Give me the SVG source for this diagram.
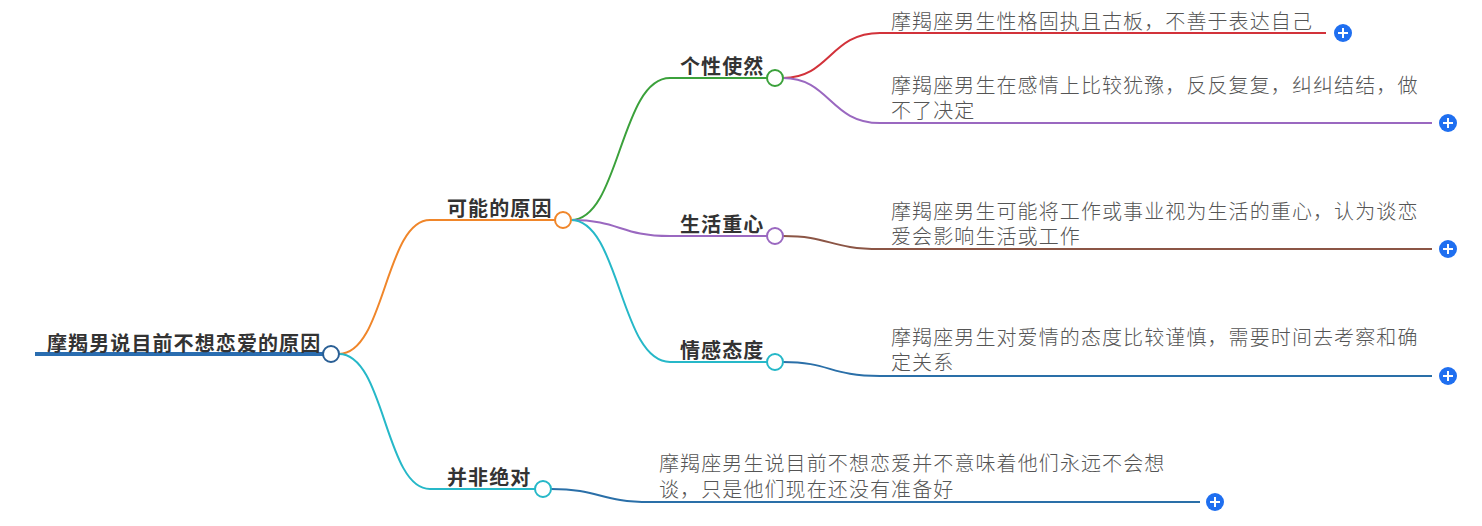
<svg xmlns="http://www.w3.org/2000/svg" width="1482" height="526" viewBox="0 0 1482 526">
<style>
.b{font-family:"Noto Sans CJK SC","Noto Sans",sans-serif;font-weight:bold;font-size:20px;letter-spacing:1.1px;fill:#333}
.t{font-family:"Noto Sans CJK SC","Noto Sans",sans-serif;font-size:20px;letter-spacing:1.1px;fill:#555;font-weight:300}
.c{fill:none;stroke-width:2}
.n{fill:#fff;stroke-width:2}
.p{fill:#1f6ff0}
.pl{stroke:#fff;stroke-width:2}
</style>
<defs>
<g id="plus"><circle r="9" class="p"/><path d="M-5 0H5M0 -5V5" class="pl"/></g>
</defs>
<g id="connectors">
<path d="M35 354H323" stroke="#2a6db0" stroke-width="4" fill="none"/>
<path class="c" stroke="#f0862a" d="M339 354C385 354 385 220 430 220H555"/>
<path class="c" stroke="#26b8c8" d="M339 354C385 354 385 489 430 489H535"/>
<path class="c" stroke="#3ba13b" d="M571 220C620 220 620 78 670 78H767"/>
<path class="c" stroke="#9a68c0" d="M571 220C620 220 620 236 670 236H767"/>
<path class="c" stroke="#26b8c8" d="M571 220C620 220 620 362 670 362H767"/>
<path class="c" stroke="#d2323a" d="M783 78C830 78 830 33 880 33H1326"/>
<path class="c" stroke="#9a68c0" d="M783 78C830 78 830 123 880 123H1432"/>
<path class="c" stroke="#8b5545" d="M783 236C830 236 830 249 880 249H1432"/>
<path class="c" stroke="#2a6fa8" d="M783 362C830 362 830 376 880 376H1432"/>
<path class="c" stroke="#2a6fa8" d="M551 489C600 489 600 502 650 502H1200"/>
</g>
<g id="root">
<text class="b" x="47" y="351">摩羯男说目前不想恋爱的原因</text>
<circle class="n" cx="331" cy="354" r="8" stroke="#2a5f95"/>
</g>
<g id="n1">
<text class="b" x="447" y="216">可能的原因</text>
<circle class="n" cx="563" cy="220" r="8" stroke="#f0862a"/>
</g>
<g id="n2">
<text class="b" x="447" y="485">并非绝对</text>
<circle class="n" cx="543" cy="489" r="8" stroke="#26b8c8"/>
</g>
<g id="n3">
<text class="b" x="680" y="74">个性使然</text>
<circle class="n" cx="775" cy="78" r="8" stroke="#3ba13b"/>
</g>
<g id="n4">
<text class="b" x="680" y="232">生活重心</text>
<circle class="n" cx="775" cy="236" r="8" stroke="#9a68c0"/>
</g>
<g id="n5">
<text class="b" x="680" y="358">情感态度</text>
<circle class="n" cx="775" cy="362" r="8" stroke="#26b8c8"/>
</g>
<g id="l1">
<text class="t" x="891" y="29">摩羯座男生性格固执且古板，不善于表达自己</text>
<use href="#plus" x="1343" y="33"/>
</g>
<g id="l2">
<text class="t"><tspan x="891" y="93">摩羯座男生在感情上比较犹豫，反反复复，纠纠结结，做</tspan><tspan x="891" y="118">不了决定</tspan></text>
<use href="#plus" x="1448" y="123"/>
</g>
<g id="l3">
<text class="t"><tspan x="891" y="219">摩羯座男生可能将工作或事业视为生活的重心，认为谈恋</tspan><tspan x="891" y="244">爱会影响生活或工作</tspan></text>
<use href="#plus" x="1448" y="249"/>
</g>
<g id="l4">
<text class="t"><tspan x="891" y="345">摩羯座男生对爱情的态度比较谨慎，需要时间去考察和确</tspan><tspan x="891" y="370">定关系</tspan></text>
<use href="#plus" x="1448" y="376"/>
</g>
<g id="l5">
<text class="t"><tspan x="659" y="471">摩羯座男生说目前不想恋爱并不意味着他们永远不会想</tspan><tspan x="659" y="497">谈，只是他们现在还没有准备好</tspan></text>
<use href="#plus" x="1215" y="502"/>
</g>
</svg>
